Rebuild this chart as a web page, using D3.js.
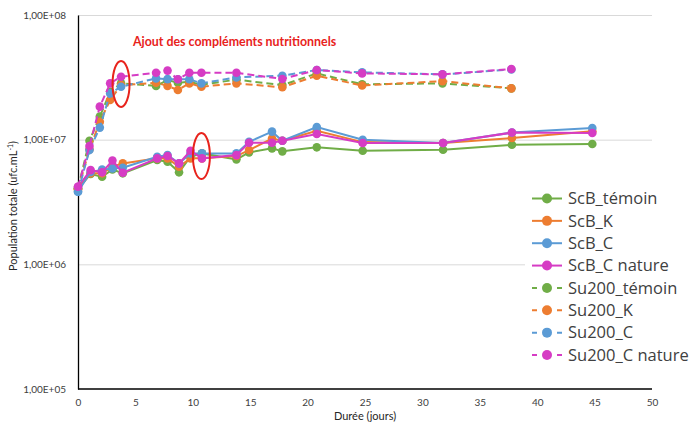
<!DOCTYPE html>
<html lang="fr">
<head>
<meta charset="UTF-8">
<title>Population totale</title>
<script src="https://d3js.org/d3.v7.min.js"></script>
<style>
  body { margin: 0; background: #fff; }
  svg { display: block; }
  .axis text { font-family: Lato, "Liberation Sans", sans-serif; font-size: 10px; fill: #404040; }
  .axis path { stroke: #000; stroke-width: 1.3; }
  .grid line { stroke: #d9d9d9; stroke-width: 1; }
  .grid path { display: none; }
  .title { font-family: Lato, "Liberation Sans", sans-serif; font-size: 11px; fill: #262626; }
  .legend text { font-family: "Open Sans", "DejaVu Sans", sans-serif; font-size: 16.5px; fill: #404040; }
</style>
</head>
<body>
<svg width="691" height="425"></svg>
<script>
// sampling days (ScB = solid lines, Su200 = dashed lines)
const daysScB = [0, 1.1, 2.1, 3, 3.9, 6.9, 7.8, 8.8, 9.8, 10.8, 13.8, 14.9, 16.9, 17.8, 20.8, 24.8, 31.8, 37.8, 44.8];
const daysSu200 = [0, 1, 1.9, 2.8, 3.75, 6.8, 7.8, 8.7, 9.7, 10.75, 13.8, 17.8, 20.8, 24.75, 31.75, 37.75];

const scbTemoin  = [4.07e6, 5.30e6, 5.04e6, 5.78e6, 5.37e6, 6.86e6, 6.65e6, 5.47e6, 7.29e6, 7.76e6, 6.95e6, 7.91e6, 8.52e6, 8.06e6, 8.68e6, 8.15e6, 8.30e6, 9.10e6, 9.22e6];
const scbK       = [3.99e6, 5.37e6, 5.37e6, 6.06e6, 6.45e6, 7.08e6, 7.08e6, 6.06e6, 7.08e6, 7.08e6, 7.39e6, 8.25e6, 1.02e7, 9.80e6, 1.18e7, 9.56e6, 9.39e6, 1.03e7, 1.17e7];
const scbC       = [3.82e6, 5.50e6, 5.75e6, 5.88e6, 5.95e6, 7.29e6, 7.52e6, 6.45e6, 7.76e6, 7.76e6, 7.76e6, 9.60e6, 1.16e7, 9.80e6, 1.26e7, 9.98e6, 9.39e6, 1.14e7, 1.24e7];
const scbCNature = [4.19e6, 5.70e6, 5.47e6, 6.80e6, 5.43e6, 7.08e6, 7.39e6, 6.45e6, 8.15e6, 7.08e6, 7.52e6, 9.44e6, 9.44e6, 9.80e6, 1.11e7, 9.39e6, 9.39e6, 1.14e7, 1.13e7];

const suTemoin   = [4.07e6, 9.8e6, 1.53e7, 2.42e7, 2.83e7, 2.70e7, 3.01e7, 2.86e7, 2.91e7, 2.76e7, 3.03e7, 2.74e7, 3.40e7, 2.78e7, 2.83e7, 2.58e7];
const suK        = [3.99e6, 8.36e6, 1.39e7, 2.08e7, 2.74e7, 2.86e7, 2.70e7, 2.50e7, 2.83e7, 2.66e7, 2.83e7, 2.63e7, 3.26e7, 2.72e7, 2.95e7, 2.58e7];
const suC        = [3.82e6, 8.25e6, 1.25e7, 2.35e7, 2.66e7, 3.10e7, 3.06e7, 3.05e7, 3.05e7, 2.83e7, 3.16e7, 3.26e7, 3.62e7, 3.47e7, 3.34e7, 3.65e7];
const suCNature  = [4.19e6, 8.9e6, 1.84e7, 2.83e7, 3.20e7, 3.44e7, 3.58e7, 3.05e7, 3.44e7, 3.44e7, 3.44e7, 3.07e7, 3.62e7, 3.40e7, 3.34e7, 3.69e7];

const seriesNames = ['ScB_témoin', 'ScB_K', 'ScB_C', 'ScB_C nature', 'Su200_témoin', 'Su200_K', 'Su200_C', 'Su200_C nature'];
const colors = ['#70ad47', '#ed7d31', '#5b9bd5', '#d63cc4'];

const xTicks = [0, 5, 10, 15, 20, 25, 30, 35, 40, 45, 50];
const yTicks = [1e5, 1e6, 1e7, 1e8];
const yTickLabels = ['1,00E+05', '1,00E+06', '1,00E+07', '1,00E+08'];

// annotation: where nutrients were added (day, value)
const addDays = [3.75, 10.75];
const addValues = [2.8e7, 7.4e6];
const annotationText = 'Ajout des compléments nutritionnels';

const series = [
    { name: seriesNames[0], days: daysScB, values: scbTemoin, color: colors[0], dashed: false },
    { name: seriesNames[1], days: daysScB, values: scbK, color: colors[1], dashed: false },
    { name: seriesNames[2], days: daysScB, values: scbC, color: colors[2], dashed: false },
    { name: seriesNames[3], days: daysScB, values: scbCNature, color: colors[3], dashed: false },
    { name: seriesNames[4], days: daysSu200, values: suTemoin, color: colors[0], dashed: true },
    { name: seriesNames[5], days: daysSu200, values: suK, color: colors[1], dashed: true },
    { name: seriesNames[6], days: daysSu200, values: suC, color: colors[2], dashed: true },
    { name: seriesNames[7], days: daysSu200, values: suCNature, color: colors[3], dashed: true },
];

const plotLeft = 78, plotRight = 652, plotTop = 15, plotBottom = 389;

const svg = d3.select('svg');

const x = d3.scaleLinear().domain([0, 50]).range([plotLeft, plotRight]);
const y = d3.scaleLog().domain([1e5, 1e8]).range([plotBottom, plotTop]);

// horizontal gridlines
svg.append('g')
    .attr('class', 'grid')
    .attr('transform', `translate(${plotLeft},0)`)
    .call(d3.axisLeft(y).tickValues(yTicks.slice(1)).tickSize(-(plotRight - plotLeft)).tickFormat(''));

// axes
svg.append('g')
    .attr('class', 'axis')
    .attr('transform', `translate(0,${plotBottom})`)
    .call(d3.axisBottom(x).tickValues(xTicks).tickSize(0).tickPadding(10))
    .call(g => g.select('.domain').attr('d', `M${plotLeft},0H${plotRight}`));

svg.append('g')
    .attr('class', 'axis')
    .attr('transform', `translate(${plotLeft},0)`)
    .call(d3.axisLeft(y).tickValues(yTicks).tickSize(0).tickPadding(12)
        .tickFormat((d, i) => yTickLabels[i]));

// axis titles
svg.append('text')
    .attr('class', 'title')
    .attr('x', (plotLeft + plotRight) / 2)
    .attr('y', 420)
    .attr('text-anchor', 'middle')
    .text('Durée (jours)');

const yTitle = svg.append('text')
    .attr('class', 'title')
    .attr('transform', `translate(17,${(plotTop + plotBottom) / 2 + 4}) rotate(-90)`)
    .attr('text-anchor', 'middle');
yTitle.append('tspan').text('Population totale (ufc.mL');
yTitle.append('tspan').attr('dy', -4).attr('font-size', '7px').text('-1');
yTitle.append('tspan').attr('dy', 4).text(')');

// lines and markers
const line = d3.line()
    .x(d => x(d[0]))
    .y(d => y(d[1]));

series.forEach(s => {
    const pts = s.days.map((d, i) => [d, s.values[i]]);
    const g = svg.append('g');
    g.append('path')
        .datum(pts)
        .attr('d', line)
        .attr('fill', 'none')
        .attr('stroke', s.color)
        .attr('stroke-width', 2)
        .attr('stroke-dasharray', s.dashed ? '7,4' : null);
    g.selectAll('circle')
        .data(pts)
        .enter()
        .append('circle')
        .attr('cx', d => x(d[0]))
        .attr('cy', d => y(d[1]))
        .attr('r', 4.3)
        .attr('fill', s.color);
});

// red annotation
svg.append('text')
    .attr('x', 133)
    .attr('y', 46)
    .attr('font-family', 'Lato, "Liberation Sans", sans-serif')
    .attr('font-weight', 'bold')
    .attr('font-size', '12.4px')
    .attr('fill', '#e8231c')
    .text(annotationText);

svg.selectAll('ellipse.mark')
    .data(addDays)
    .enter()
    .append('ellipse')
    .attr('class', 'mark')
    .attr('cx', d => x(d))
    .attr('cy', (d, i) => y(addValues[i]))
    .attr('rx', 8.5)
    .attr('ry', 23)
    .attr('fill', 'none')
    .attr('stroke', '#e8231c')
    .attr('stroke-width', 2);

// legend
const legend = svg.append('g').attr('class', 'legend');
legend.append('rect')
    .attr('x', 525).attr('y', 185)
    .attr('width', 166).attr('height', 182)
    .attr('fill', '#fff');

const rowY = d3.scalePoint().domain(seriesNames).range([198.5, 355]);
const rows = legend.selectAll('g.row')
    .data(series)
    .enter()
    .append('g')
    .attr('class', 'row')
    .attr('transform', d => `translate(0,${rowY(d.name)})`);

rows.append('line')
    .attr('x1', 532).attr('x2', 562)
    .attr('stroke', d => d.color)
    .attr('stroke-width', 2)
    .attr('stroke-dasharray', d => d.dashed ? '5,20' : null);
rows.append('circle')
    .attr('cx', 547)
    .attr('r', 5)
    .attr('fill', d => d.color);
rows.append('text')
    .attr('x', 568)
    .attr('dy', '0.35em')
    .text(d => d.name);
</script>
</body>
</html>
